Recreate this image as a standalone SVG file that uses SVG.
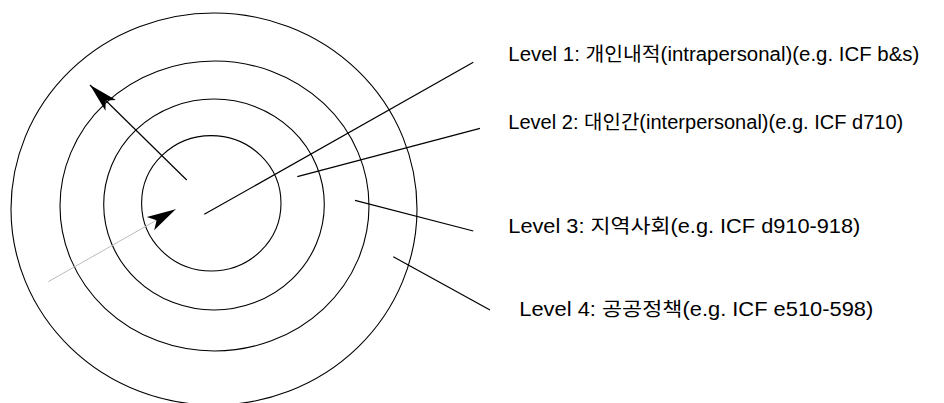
<svg xmlns="http://www.w3.org/2000/svg" width="944" height="403" viewBox="0 0 944 403">
<style>
.ring{fill:none;stroke:#000;stroke-width:1.1}
.lead{stroke:#000;stroke-width:1.2;fill:none}
.arr{stroke:#000;stroke-width:1.2;fill:none}
.garr{stroke:#bbbbbb;stroke-width:1;fill:none}
.lbl{font-family:"Liberation Sans","Noto Sans CJK KR",sans-serif;font-size:19.5px;fill:#000}
</style>
<defs>
<marker id="head" viewBox="-30 -10 32 20" markerWidth="32" markerHeight="20" refX="0" refY="0" orient="auto" markerUnits="userSpaceOnUse">
<path d="M0,0 L-29,-7.5 L-22,0 L-29,7.5 Z" fill="#000" stroke="none"/>
</marker>
</defs>
<rect width="944" height="403" fill="#fff"/>
<g id="ring4"><ellipse class="ring" cx="214" cy="209" rx="203" ry="196"/></g>
<g id="ring3"><ellipse class="ring" cx="214.5" cy="206" rx="154.5" ry="145"/></g>
<g id="ring2"><ellipse class="ring" cx="214" cy="204.5" rx="110.3" ry="105.5"/></g>
<g id="ring1"><ellipse class="ring" cx="211.3" cy="203.3" rx="69.7" ry="67.7"/></g>
<g id="connectors">
<line class="lead" x1="204.3" y1="214.3" x2="473.3" y2="62.3"/>
<line class="lead" x1="297.3" y1="176.7" x2="480" y2="128.3"/>
<line class="lead" x1="355" y1="200.3" x2="473.3" y2="231"/>
<line class="lead" x1="393.3" y1="256.7" x2="490" y2="310"/>
<line class="arr" x1="186.7" y1="180" x2="90" y2="85" marker-end="url(#head)"/>
<line class="garr" x1="48.3" y1="281.7" x2="175.7" y2="209.3" marker-end="url(#head)"/>
</g>
<g id="label1"><text class="lbl" x="508.3" y="60.8" textLength="411" lengthAdjust="spacingAndGlyphs">Level 1: 개인내적(intrapersonal)(e.g. ICF b&amp;s)</text></g>
<g id="label2"><text class="lbl" x="508.3" y="129.3" textLength="395" lengthAdjust="spacingAndGlyphs">Level 2: 대인간(interpersonal)(e.g. ICF d710)</text></g>
<g id="label3"><text class="lbl" x="508.3" y="232.6" textLength="352" lengthAdjust="spacingAndGlyphs">Level 3: 지역사회(e.g. ICF d910-918)</text></g>
<g id="label4"><text class="lbl" x="519.3" y="316" textLength="354" lengthAdjust="spacingAndGlyphs">Level 4: 공공정책(e.g. ICF e510-598)</text></g>
</svg>
